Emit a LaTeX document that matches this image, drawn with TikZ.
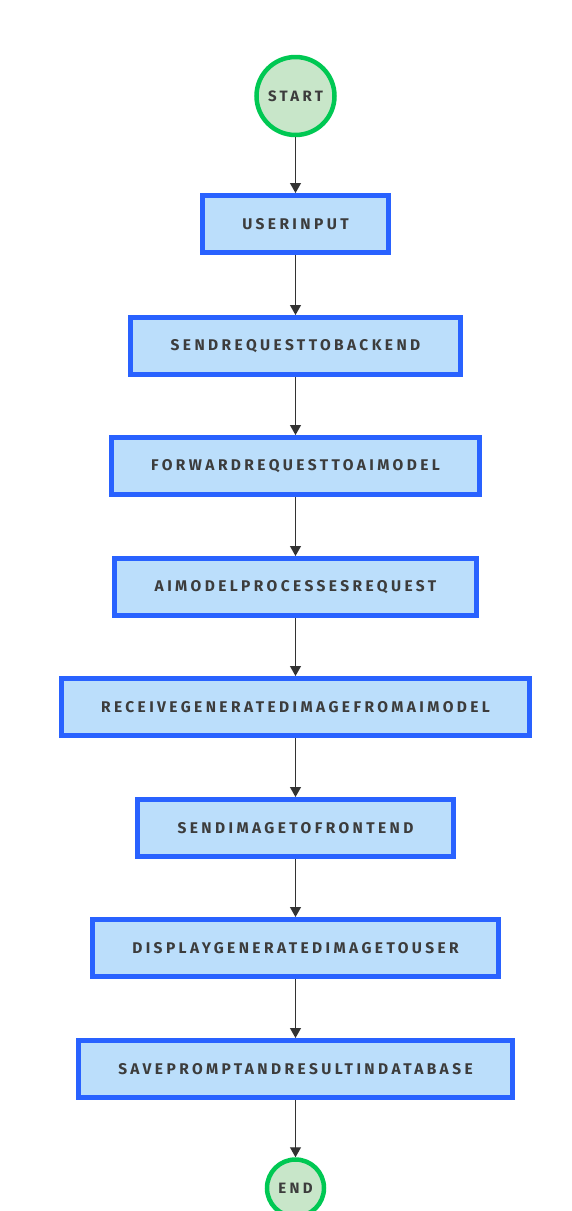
\documentclass[tikz,border=0pt]{standalone}
\usepackage{fontspec}
\newfontfamily\flowfont[LetterSpace=22]{Fira Sans}
\usetikzlibrary{arrows.meta, positioning}
\definecolor{boxblue}{RGB}{41,98,255}
\definecolor{boxfill}{RGB}{187,222,251}
\definecolor{termgreen}{RGB}{0,200,83}
\definecolor{termfill}{RGB}{200,230,201}
\definecolor{labelgray}{RGB}{60,60,60}
\definecolor{arrowgray}{RGB}{51,51,51}

\begin{document}
\begin{tikzpicture}[x=1pt, y=-1pt,
    stepbox/.style={draw=boxblue, line width=5pt, fill=boxfill, minimum height=57pt, inner xsep=40pt, font=\flowfont\fontsize{15.5}{15.5}\selectfont\bfseries, text=labelgray},
    termnode/.style={circle, draw=termgreen, line width=4.5pt, fill=termfill, inner sep=0pt, font=\flowfont\fontsize{15}{15}\selectfont\bfseries, text=labelgray},
    flow/.style={draw=arrowgray, line width=1.2pt, -{Triangle[width=11pt, length=10pt]}}
]
    % Page frame
    \useasboundingbox[fill=white] (0,0) rectangle (571,1211);

    % Terminals
    \node[termnode, minimum size=78pt] (start) at (295.5,96) {START};
    \node[termnode, minimum size=57pt] (end) at (295.5,1188) {END};

    % Process steps
    \node[stepbox] (input) at (295.5,224) {USERINPUT};
    \node[stepbox] (send) at (295.5,346) {SENDREQUESTTOBACKEND};
    \node[stepbox] (forward) at (295.5,466) {FORWARDREQUESTTOAIMODEL};
    \node[stepbox] (process) at (295.5,587) {AIMODELPROCESSESREQUEST};
    \node[stepbox] (receive) at (295.5,707) {RECEIVEGENERATEDIMAGEFROMAIMODEL};
    \node[stepbox] (frontend) at (295.5,828) {SENDIMAGETOFRONTEND};
    \node[stepbox] (display) at (295.5,948) {DISPLAYGENERATEDIMAGETOUSER};
    \node[stepbox] (save) at (295.5,1069) {SAVEPROMPTANDRESULTINDATABASE};

    % Connectors
    \draw[flow] (start) -- (input);
    \draw[flow] (input) -- (send);
    \draw[flow] (send) -- (forward);
    \draw[flow] (forward) -- (process);
    \draw[flow] (process) -- (receive);
    \draw[flow] (receive) -- (frontend);
    \draw[flow] (frontend) -- (display);
    \draw[flow] (display) -- (save);
    \draw[flow] (save) -- (end);
\end{tikzpicture}
\end{document}
